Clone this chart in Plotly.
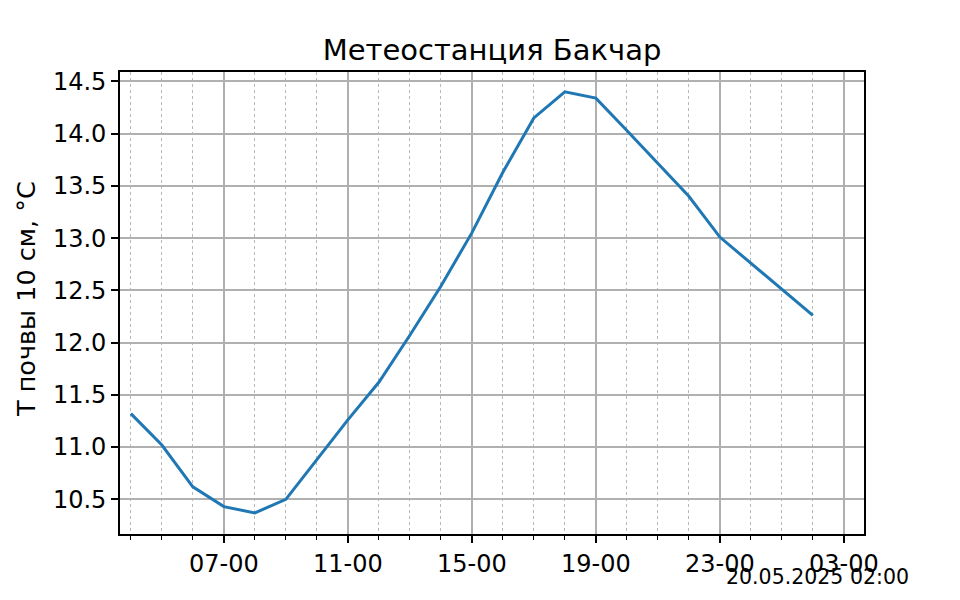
import plotly.graph_objects as go

times = [
    "2025-05-19 04:00", "2025-05-19 05:00", "2025-05-19 06:00", "2025-05-19 07:00",
    "2025-05-19 08:00", "2025-05-19 09:00", "2025-05-19 10:00", "2025-05-19 11:00",
    "2025-05-19 12:00", "2025-05-19 13:00", "2025-05-19 14:00", "2025-05-19 15:00",
    "2025-05-19 16:00", "2025-05-19 17:00", "2025-05-19 18:00", "2025-05-19 19:00",
    "2025-05-19 20:00", "2025-05-19 21:00", "2025-05-19 22:00", "2025-05-19 23:00",
    "2025-05-20 00:00", "2025-05-20 01:00", "2025-05-20 02:00",
]
soil_temp = [
    11.32, 11.02, 10.62, 10.43, 10.37, 10.50, 10.88, 11.26,
    11.62, 12.07, 12.54, 13.05, 13.63, 14.15, 14.40, 14.34,
    14.03, 13.72, 13.40, 13.01, 12.76, 12.51, 12.26,
]
title_text = "Метеостанция Бакчар"
y_label = "Т почвы 10 см, °С"
stamp = "20.05.2025 02:00"

font_family = "DejaVu Sans"
OFF = 8  # page body margin

fig = go.Figure()
fig.add_trace(go.Scatter(
    x=times, y=soil_temp, mode="lines",
    line=dict(color="#1f77b4", width=3),
    hoverinfo="skip",
))

fig.update_layout(
    width=960, height=600,
    margin=dict(l=120 - OFF, r=96 + OFF, t=72 - OFF, b=66 + OFF),
    paper_bgcolor="white", plot_bgcolor="white",
    showlegend=False,
    font=dict(family=font_family, color="black"),
    title=dict(text=title_text, x=0.5, xref="paper", xanchor="center",
               y=1 - (50 - OFF) / 600, yref="container", yanchor="middle",
               font=dict(size=29, family=font_family, color="black")),
)

fig.update_xaxes(
    type="date",
    range=["2025-05-19 03:39", "2025-05-20 03:39"],
    tick0="2025-05-19 03:00", dtick=4 * 3600000,
    tickformat="%H-%M",
    ticks="outside", ticklen=7, tickwidth=1.5, tickcolor="black",
    tickfont=dict(size=24, family=font_family, color="black"),
    showgrid=True, gridcolor="#b0b0b0", gridwidth=1.5,
    showline=True, linecolor="black", linewidth=1.6, mirror=True,
    zeroline=False,
    minor=dict(dtick=3600000, tick0="2025-05-19 03:00", ticks="outside", ticklen=4,
               tickwidth=1.2, tickcolor="black",
               showgrid=True, gridcolor="#b8b8b8", gridwidth=1.3, griddash="dot"),
)

fig.update_yaxes(
    range=[10.168, 14.59],
    tick0=10.0, dtick=0.5, tickformat=".1f",
    ticks="outside", ticklen=7, tickwidth=1.5, tickcolor="black",
    tickfont=dict(size=24, family=font_family, color="black"),
    showgrid=True, gridcolor="#b0b0b0", gridwidth=1.5,
    showline=True, linecolor="black", linewidth=1.6, mirror=True,
    zeroline=False,
)

fig.add_annotation(
    text=y_label, textangle=-90,
    xref="paper", yref="paper",
    x=(26 - 120) / 744, y=(534 - 299) / 462,
    xanchor="center", yanchor="middle", showarrow=False,
    font=dict(size=25.5, family=font_family, color="black"),
)

fig.add_annotation(
    text=stamp,
    xref="paper", yref="paper",
    x=(911 - 120) / 744, y=(534 - 577) / 462,
    xanchor="right", yanchor="middle", showarrow=False,
    font=dict(size=20.5, family=font_family, color="black"),
)

fig.write_html("out.html")
